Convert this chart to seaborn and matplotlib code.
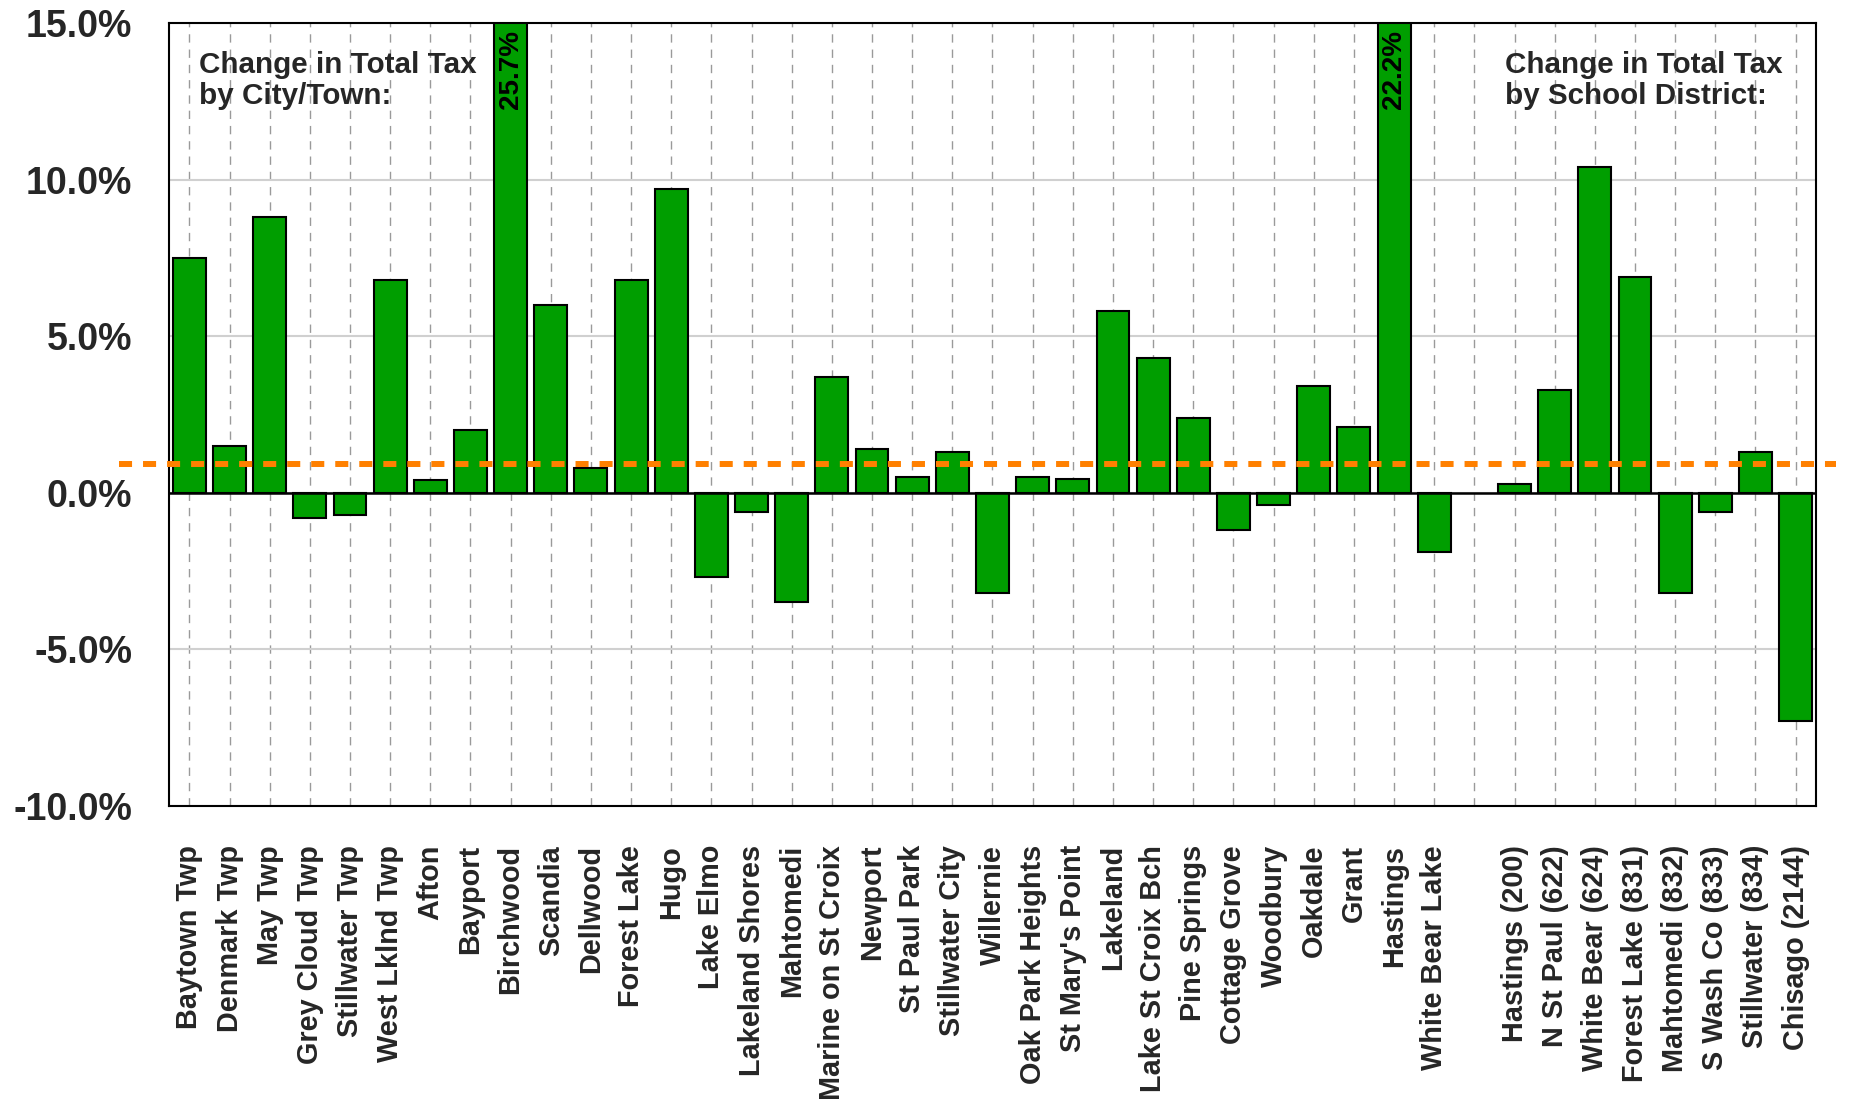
import matplotlib
matplotlib.use("Agg")
import matplotlib.pyplot as plt
import matplotlib.transforms as mtransforms
from matplotlib.ticker import FuncFormatter, MultipleLocator
import seaborn as sns
import pandas as pd

# ---- data ----
city_labels = ["Baytown Twp", "Denmark Twp", "May Twp", "Grey Cloud Twp", "Stillwater Twp",
               "West Lklnd Twp", "Afton", "Bayport", "Birchwood", "Scandia", "Dellwood",
               "Forest Lake", "Hugo", "Lake Elmo", "Lakeland Shores", "Mahtomedi",
               "Marine on St Croix", "Newport", "St Paul Park", "Stillwater City", "Willernie",
               "Oak Park Heights", "St Mary's Point", "Lakeland", "Lake St Croix Bch",
               "Pine Springs", "Cottage Grove", "Woodbury", "Oakdale", "Grant", "Hastings",
               "White Bear Lake"]
city_values = [7.5, 1.5, 8.8, -0.8, -0.7, 6.8, 0.4, 2.0, 25.7, 6.0, 0.8, 6.8, 9.7, -2.7, -0.6,
               -3.5, 3.7, 1.4, 0.5, 1.3, -3.2, 0.5, 0.45, 5.8, 4.3, 2.4, -1.2, -0.4, 3.4, 2.1,
               22.2, -1.9]
school_labels = ["Hastings (200)", "N St Paul (622)", "White Bear (624)", "Forest Lake (831)",
                 "Mahtomedi (832)", "S Wash Co (833)", "Stillwater (834)", "Chisago (2144)"]
school_values = [0.3, 3.3, 10.4, 6.9, -3.2, -0.6, 1.3, -7.3]
reference_value = 0.93
y_ticks = [-10, -5, 0, 5, 10, 15]
annot_city = "Change in Total Tax\nby City/Town:"
annot_school = "Change in Total Tax\nby School District:"

# ---- style ----
sns.set_theme(style="white")
plt.rcParams["font.family"] = ["Liberation Sans", "DejaVu Sans"]
plt.rcParams["font.weight"] = "bold"
plt.rcParams["lines.scale_dashes"] = False

GREEN = "#009E00"
ORANGE = "#FF8000"

df = pd.DataFrame({"label": city_labels + school_labels,
                   "value": city_values + school_values})
order = city_labels + [""] + school_labels

fig = plt.figure(figsize=(18.51, 10.99), dpi=100)
ax = fig.add_axes([0.09146, 0.26661, 0.88947, 0.71219])

sns.barplot(data=df, x="label", y="value", order=order, color=GREEN, saturation=1,
            edgecolor="black", linewidth=1.5, width=0.82, ax=ax, zorder=2)

ymin, ymax = y_ticks[0], y_ticks[-1]
ax.set_xlim(-0.5, len(order) - 0.5)
ax.set_ylim(ymin, ymax)
ax.yaxis.set_major_locator(MultipleLocator(5))
ax.yaxis.set_major_formatter(FuncFormatter(lambda v, p: f"{v:.1f}%"))
ax.set_xlabel("")
ax.set_ylabel("")

ax.set_axisbelow(True)
ax.yaxis.grid(True, color="#d0d0d0", lw=1.5, ls="-")
ax.xaxis.grid(True, color="#9a9a9a", lw=1.0, ls=(0, (6, 5)))

for s in ax.spines.values():
    s.set_visible(True)
    s.set_color("black")
    s.set_linewidth(1.5)

ax.tick_params(axis="y", length=0, pad=26.5, labelsize=27)
ax.tick_params(axis="x", length=0, pad=28, labelsize=20.8)
for t in ax.get_yticklabels():
    t.set_fontweight("bold")
ax.set_xticks(range(len(order)))
ax.set_xticklabels(order, rotation=90, ha="center", va="top", fontweight="bold")

ax.axhline(0, color="black", lw=1.8, zorder=3)

# reference dashed line extending beyond axes
trans = mtransforms.blended_transform_factory(ax.transAxes, ax.transData)
ax.plot([-0.0306, 1.0123], [reference_value, reference_value], transform=trans,
        color=ORANGE, lw=4.3, dashes=(9.4, 7.9), solid_capstyle="butt",
        dash_capstyle="butt", clip_on=False, zorder=5)

# labels for bars exceeding the top
trans2 = mtransforms.blended_transform_factory(ax.transData, ax.transAxes)
for i, lab in enumerate(order):
    if lab == "":
        continue
    v = df.loc[df["label"] == lab, "value"].iloc[0]
    if v > ymax:
        ax.text(i, 1 - 7 / 782.7, f"{v:.1f}%", transform=trans2, rotation=90,
                ha="center", va="top", fontsize=20, fontweight="bold", color="black", zorder=6)

ax.text(0.0180, 0.9640, annot_city, transform=ax.transAxes, ha="left", va="top",
        fontsize=21.3, fontweight="bold", linespacing=1.12, zorder=6)
ax.text(0.8113, 0.9640, annot_school, transform=ax.transAxes, ha="left", va="top",
        fontsize=21.3, fontweight="bold", linespacing=1.12, zorder=6)

fig.savefig("out.png", dpi=100, facecolor="white")
